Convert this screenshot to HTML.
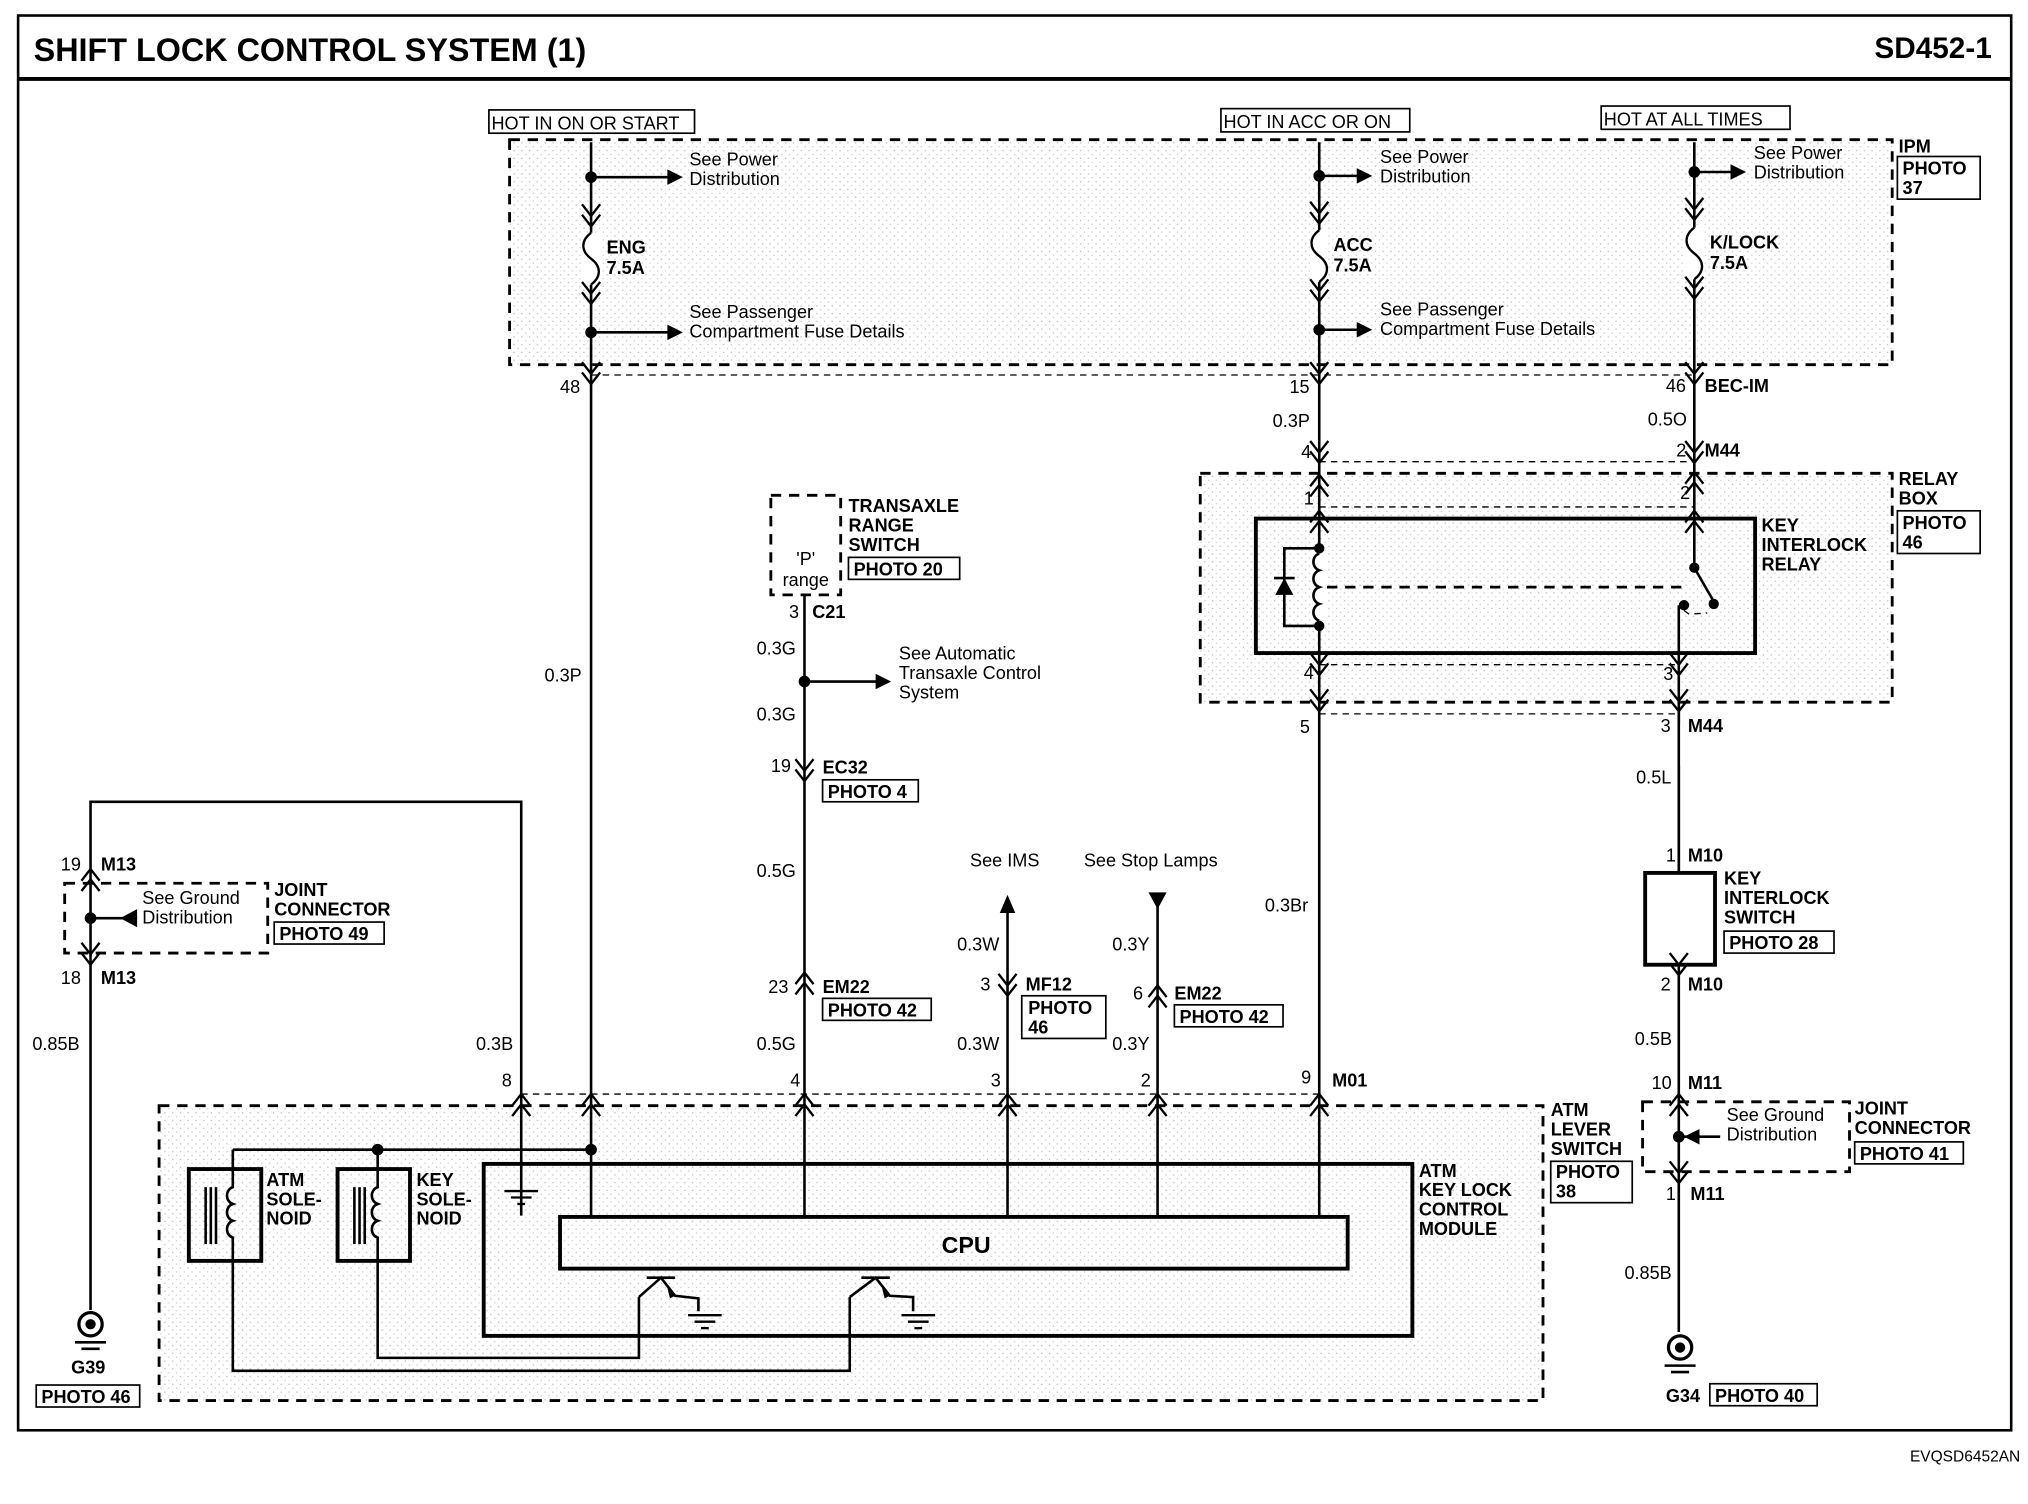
<!DOCTYPE html>
<html><head><meta charset="utf-8"><style>
html,body{margin:0;padding:0;background:#fff;}
svg{display:block;}
text{font-family:"Liberation Sans",Arial,sans-serif;font-size:14px;fill:#000;}
.b{font-weight:bold;}
.w{stroke:#000;stroke-width:2;fill:none;}
.t{stroke:#000;stroke-width:3;fill:none;}
.d{stroke:#000;stroke-width:2.2;fill:none;stroke-dasharray:8 6;}
.dt{stroke:#000;stroke-width:1;fill:none;stroke-dasharray:5 4;}
.bx{stroke:#000;stroke-width:1.3;fill:none;}
</style></head><body>
<svg width="2028" height="1504" viewBox="0 0 1568 1163" preserveAspectRatio="none" xmlns="http://www.w3.org/2000/svg">
<defs>
<path id="cu" d="M-7,9 L0,0 L7,9 M-7,17 L0,8 L7,17" stroke="#000" stroke-width="1.8" fill="none"/>
<path id="cd" d="M-7,-9 L0,0 L7,-9 M-7,-17 L0,-8 L7,-17" stroke="#000" stroke-width="1.8" fill="none"/>
<g id="fuse"><path d="M0,-20 C-8,-14 -8,-6 0,0 C8,6 8,14 0,20" stroke="#000" stroke-width="1.8" fill="none"/></g>
<g id="gnd"><circle cx="0" cy="0" r="9" fill="none" stroke="#000" stroke-width="2.5"/><circle cx="0" cy="0" r="4"/><line x1="-12" y1="14" x2="12" y2="14" stroke="#000" stroke-width="2"/><line x1="-7" y1="19" x2="7" y2="19" stroke="#000" stroke-width="2"/></g>
<g id="sg"><line x1="-13" y1="0" x2="13" y2="0" stroke="#000" stroke-width="1.8"/><line x1="-8" y1="5" x2="8" y2="5" stroke="#000" stroke-width="1.8"/><line x1="-3" y1="10" x2="3" y2="10" stroke="#000" stroke-width="1.8"/></g>
<pattern id="st" width="6" height="6" patternUnits="userSpaceOnUse"><rect width="6" height="6" fill="#fff"/><rect x="1" y="2" width="1" height="1" fill="#bbb"/><rect x="4" y="5" width="1" height="1" fill="#ccc"/></pattern>
</defs>

<!-- frame -->
<rect x="14" y="12" width="1541" height="1094" class="w" stroke-width="1.5"/>
<line x1="14" y1="61" x2="1555" y2="61" stroke="#000" stroke-width="3"/>
<text x="26" y="47" class="b" style="font-size:25px">SHIFT LOCK CONTROL SYSTEM (1)</text>
<text x="1540" y="45" class="b" style="font-size:23px" text-anchor="end">SD452-1</text>
<text x="1562" y="1130" style="font-size:12px" text-anchor="end">EVQSD6452AN</text>

<!-- shaded areas -->
<rect x="394" y="108" width="1069" height="174" fill="url(#st)"/>
<rect x="928" y="366" width="535" height="177" fill="url(#st)"/>
<rect x="123" y="855" width="1070" height="228" fill="url(#st)"/>

<!-- IPM box -->
<rect x="394" y="108" width="1069" height="174" class="d"/>
<text x="1468" y="118" class="b">IPM</text>
<rect x="1467" y="121" width="64" height="33" class="bx"/>
<text x="1471" y="135" class="b">PHOTO</text><text x="1471" y="150" class="b">37</text>
<line x1="457" y1="290" x2="1310" y2="290" class="dt"/>

<!-- column A x=457 -->
<rect x="378" y="85" width="159" height="18" class="bx"/><text x="380" y="100">HOT IN ON OR START</text>
<line x1="457" y1="110" x2="457" y2="940" class="w"/>
<circle cx="457" cy="137" r="4.5"/><line x1="457" y1="137" x2="520" y2="137" class="w"/><path d="M516,131 L528,137 L516,143Z"/>
<text x="533" y="128">See Power</text><text x="533" y="143">Distribution</text>
<use href="#cd" x="457" y="175"/>
<rect x="450" y="180" width="14" height="40" fill="#fff"/>
<use href="#fuse" x="457" y="200"/>
<use href="#cd" x="457" y="235"/>
<text x="469" y="196" class="b">ENG</text><text x="469" y="212" class="b">7.5A</text>
<circle cx="457" cy="257" r="4.5"/><line x1="457" y1="257" x2="520" y2="257" class="w"/><path d="M516,251 L528,257 L516,263Z"/>
<text x="533" y="246">See Passenger</text><text x="533" y="261">Compartment Fuse Details</text>
<use href="#cd" x="457" y="297"/>
<text x="433" y="304">48</text>
<text x="421" y="527">0.3P</text>

<!-- column B x=1020 -->
<rect x="944" y="84" width="146" height="18" class="bx"/><text x="946" y="99">HOT IN ACC OR ON</text>
<line x1="1020" y1="110" x2="1020" y2="940" class="w"/>
<circle cx="1020" cy="136" r="4.5"/><line x1="1020" y1="136" x2="1053" y2="136" class="w"/><path d="M1049,130 L1061,136 L1049,142Z"/>
<text x="1067" y="126">See Power</text><text x="1067" y="141">Distribution</text>
<use href="#cd" x="1020" y="173"/>
<rect x="1013" y="178" width="14" height="40" fill="#fff"/>
<use href="#fuse" x="1020" y="198"/>
<use href="#cd" x="1020" y="233"/>
<text x="1031" y="194" class="b">ACC</text><text x="1031" y="210" class="b">7.5A</text>
<circle cx="1020" cy="255" r="4.5"/><line x1="1020" y1="255" x2="1053" y2="255" class="w"/><path d="M1049,249 L1061,255 L1049,261Z"/>
<text x="1067" y="244">See Passenger</text><text x="1067" y="259">Compartment Fuse Details</text>
<use href="#cd" x="1020" y="297"/>
<text x="997" y="304">15</text>
<text x="984" y="330">0.3P</text>
<use href="#cd" x="1020" y="358"/><text x="1006" y="354">4</text>
<use href="#cu" x="1020" y="367"/>
<text x="1008" y="390">1</text>
<use href="#cu" x="1020" y="395"/>
<use href="#cd" x="1020" y="522"/><text x="1008" y="525">4</text>
<use href="#cd" x="1020" y="550"/>
<text x="1005" y="567">5</text>
<text x="978" y="705">0.3Br</text>
<text x="1006" y="838">9</text><text x="1030" y="840" class="b">M01</text>

<!-- column C x=1310 -->
<rect x="1238" y="82" width="146" height="18" class="bx"/><text x="1240" y="97">HOT AT ALL TIMES</text>
<line x1="1310" y1="110" x2="1310" y2="440" class="w"/>
<circle cx="1310" cy="133" r="4.5"/><line x1="1310" y1="133" x2="1342" y2="133" class="w"/><path d="M1338,127 L1350,133 L1338,139Z"/>
<text x="1356" y="123">See Power</text><text x="1356" y="138">Distribution</text>
<use href="#cd" x="1310" y="170"/>
<rect x="1303" y="176" width="14" height="40" fill="#fff"/>
<use href="#fuse" x="1310" y="196"/>
<use href="#cd" x="1310" y="231"/>
<text x="1322" y="192" class="b">K/LOCK</text><text x="1322" y="208" class="b">7.5A</text>
<use href="#cd" x="1310" y="297"/>
<text x="1288" y="303">46</text><text x="1318" y="303" class="b">BEC-IM</text>
<text x="1274" y="329">0.5O</text>
<use href="#cd" x="1310" y="358"/><text x="1296" y="353">2</text><text x="1318" y="353" class="b">M44</text>
<use href="#cu" x="1310" y="365"/><text x="1299" y="386">2</text>
<use href="#cu" x="1310" y="395"/>
<line x1="1020" y1="357" x2="1310" y2="357" class="dt"/>
<line x1="1020" y1="392" x2="1310" y2="392" class="dt"/>
<line x1="1020" y1="514" x2="1298" y2="514" class="dt"/>
<line x1="1020" y1="552" x2="1298" y2="552" class="dt"/>

<!-- relay box -->
<rect x="928" y="366" width="535" height="177" class="d"/>
<text x="1468" y="375" class="b">RELAY</text><text x="1468" y="390" class="b">BOX</text>
<rect x="1467" y="395" width="64" height="33" class="bx"/>
<text x="1471" y="409" class="b">PHOTO</text><text x="1471" y="424" class="b">46</text>
<rect x="971" y="401" width="386" height="104" class="t" fill="url(#st)"/>
<text x="1362" y="411" class="b">KEY</text><text x="1362" y="426" class="b">INTERLOCK</text><text x="1362" y="441" class="b">RELAY</text>
<!-- coil -->
<circle cx="1020" cy="424" r="4"/><circle cx="1020" cy="484" r="4"/>
<rect x="1014" y="428" width="12" height="52" fill="#fff"/>
<path d="M1020,428 c-6,2 -6,11 0,13 c-6,2 -6,11 0,13 c-6,2 -6,11 0,13 c-6,2 -6,11 0,13" class="w" stroke-width="1.5"/>
<path d="M1020,424 L993,424 L993,484 L1020,484" class="w"/>
<path d="M986,460 L1000,460 L993,447Z"/><line x1="985" y1="447" x2="1001" y2="447" class="w"/>
<line x1="1026" y1="454" x2="1300" y2="454" class="d" stroke-width="1.6"/>
<!-- switch -->
<circle cx="1310" cy="439" r="4"/>
<line x1="1310" y1="439" x2="1325" y2="465" class="w"/>
<circle cx="1325" cy="467" r="4"/>
<circle cx="1302" cy="468" r="4"/>
<path d="M1302,472 L1306,475 L1320,474" class="dt"/>
<line x1="1298" y1="468" x2="1298" y2="560" class="w"/>
<line x1="1298" y1="592" x2="1298" y2="673" class="w"/>
<use href="#cd" x="1298" y="522"/><text x="1286" y="526">3</text>
<use href="#cd" x="1298" y="550"/>
<text x="1284" y="566">3</text><text x="1305" y="566" class="b">M44</text>
<line x1="1298" y1="550" x2="1298" y2="675" class="w"/>
<text x="1265" y="606">0.5L</text>
<text x="1288" y="666">1</text><text x="1305" y="666" class="b">M10</text>
<rect x="1272" y="675" width="54" height="71" class="t" fill="url(#st)"/>
<text x="1333" y="684" class="b">KEY</text><text x="1333" y="699" class="b">INTERLOCK</text><text x="1333" y="714" class="b">SWITCH</text>
<rect x="1333" y="720" width="85" height="17" class="bx"/><text x="1337" y="734" class="b">PHOTO 28</text>
<use href="#cd" x="1298" y="754"/>
<line x1="1298" y1="746" x2="1298" y2="1030" class="w"/>
<text x="1284" y="766">2</text><text x="1305" y="766" class="b">M10</text>
<text x="1264" y="808">0.5B</text>
<text x="1277" y="842">10</text><text x="1305" y="842" class="b">M11</text>
<use href="#cu" x="1298" y="846"/>
<rect x="1270" y="852" width="160" height="54" class="d"/>
<circle cx="1298" cy="879" r="4.5"/><line x1="1302" y1="879" x2="1330" y2="879" class="w"/><path d="M1314,873 L1302,879 L1314,885Z"/>
<text x="1335" y="867">See Ground</text><text x="1335" y="882">Distribution</text>
<text x="1434" y="862" class="b">JOINT</text><text x="1434" y="877" class="b">CONNECTOR</text>
<rect x="1434" y="883" width="84" height="17" class="bx"/><text x="1438" y="897" class="b">PHOTO 41</text>
<use href="#cd" x="1298" y="915"/>
<text x="1288" y="928">1</text><text x="1307" y="928" class="b">M11</text>
<text x="1256" y="989">0.85B</text>
<use href="#gnd" x="1299" y="1042"/>
<text x="1288" y="1084" class="b">G34</text>
<rect x="1322" y="1070" width="83" height="17" class="bx"/><text x="1326" y="1084" class="b">PHOTO 40</text>

<!-- left joint connector -->
<path d="M70,1013 L70,620 L403,620 L403,940" class="w"/>
<text x="47" y="673">19</text><text x="78" y="673" class="b">M13</text>
<use href="#cu" x="70" y="672"/>
<rect x="50" y="683" width="157" height="54" class="d"/>
<circle cx="70" cy="710" r="4.5"/><line x1="74" y1="710" x2="106" y2="710" class="w"/><path d="M106,703 L93,710 L106,717Z"/>
<text x="110" y="699">See Ground</text><text x="110" y="714">Distribution</text>
<text x="212" y="693" class="b">JOINT</text><text x="212" y="708" class="b">CONNECTOR</text>
<rect x="212" y="713" width="85" height="17" class="bx"/><text x="216" y="727" class="b">PHOTO 49</text>
<use href="#cd" x="70" y="746"/>
<text x="47" y="761">18</text><text x="78" y="761" class="b">M13</text>
<text x="25" y="812">0.85B</text>
<use href="#gnd" x="70" y="1024"/>
<text x="55" y="1062" class="b">G39</text>
<rect x="28" y="1071" width="80" height="17" class="bx"/><text x="32" y="1085" class="b">PHOTO 46</text>
<text x="368" y="812">0.3B</text>
<text x="388" y="840">8</text>

<!-- transaxle -->
<rect x="596" y="383" width="54" height="77" class="d" stroke-width="1.6"/>
<text x="623" y="437" text-anchor="middle">'P'</text><text x="623" y="453" text-anchor="middle">range</text>
<text x="656" y="396" class="b">TRANSAXLE</text><text x="656" y="411" class="b">RANGE</text><text x="656" y="426" class="b">SWITCH</text>
<rect x="656" y="431" width="86" height="17" class="bx"/><text x="660" y="445" class="b">PHOTO 20</text>
<line x1="622" y1="460" x2="622" y2="940" class="w"/>
<text x="610" y="478">3</text><text x="628" y="478" class="b">C21</text>
<text x="585" y="506">0.3G</text>
<circle cx="622" cy="527" r="4.5"/><line x1="622" y1="527" x2="680" y2="527" class="w"/><path d="M677,521 L689,527 L677,533Z"/>
<text x="695" y="510">See Automatic</text><text x="695" y="525">Transaxle Control</text><text x="695" y="540">System</text>
<text x="585" y="557">0.3G</text>
<use href="#cd" x="622" y="604"/>
<text x="596" y="597">19</text><text x="636" y="598" class="b">EC32</text>
<rect x="636" y="603" width="74" height="17" class="bx"/><text x="640" y="617" class="b">PHOTO 4</text>
<text x="585" y="678">0.5G</text>
<use href="#cu" x="622" y="752"/>
<text x="594" y="768">23</text><text x="636" y="768" class="b">EM22</text>
<rect x="636" y="772" width="84" height="17" class="bx"/><text x="640" y="786" class="b">PHOTO 42</text>
<text x="585" y="812">0.5G</text>
<text x="611" y="840">4</text>

<!-- IMS -->
<text x="750" y="670">See IMS</text>
<path d="M779,940 L779,700" class="w"/><path d="M773,706 L779,692 L785,706Z"/>
<text x="740" y="735">0.3W</text>
<use href="#cd" x="779" y="770"/>
<text x="758" y="766">3</text><text x="793" y="766" class="b">MF12</text>
<rect x="790" y="770" width="65" height="33" class="bx"/><text x="795" y="784" class="b">PHOTO</text><text x="795" y="799" class="b">46</text>
<text x="740" y="812">0.3W</text><text x="766" y="840">3</text>
<!-- stop lamps -->
<text x="838" y="670">See Stop Lamps</text>
<path d="M895,940 L895,694" class="w"/><path d="M888,690 L902,690 L895,703Z"/>
<text x="860" y="735">0.3Y</text>
<use href="#cu" x="895" y="762"/>
<text x="876" y="773">6</text><text x="908" y="773" class="b">EM22</text>
<rect x="908" y="777" width="84" height="17" class="bx"/><text x="912" y="791" class="b">PHOTO 42</text>
<text x="860" y="812">0.3Y</text><text x="882" y="840">2</text>

<!-- module connectors -->
<line x1="403" y1="846" x2="1020" y2="846" class="dt"/>
<use href="#cu" x="403" y="846"/><use href="#cu" x="457" y="846"/><use href="#cu" x="622" y="846"/>
<use href="#cu" x="779" y="846"/><use href="#cu" x="895" y="846"/><use href="#cu" x="1020" y="846"/>

<!-- ATM module -->
<rect x="123" y="855" width="1070" height="228" class="d"/>
<text x="1199" y="863" class="b">ATM</text><text x="1199" y="878" class="b">LEVER</text><text x="1199" y="893" class="b">SWITCH</text>
<rect x="1199" y="898" width="63" height="32" class="bx"/><text x="1203" y="911" class="b">PHOTO</text><text x="1203" y="926" class="b">38</text>
<rect x="374" y="900" width="718" height="133" class="t" fill="none"/>
<text x="1097" y="910" class="b">ATM</text><text x="1097" y="925" class="b">KEY LOCK</text><text x="1097" y="940" class="b">CONTROL</text><text x="1097" y="955" class="b">MODULE</text>
<rect x="433" y="941" width="609" height="40" class="t" fill="#fff"/>
<text x="747" y="969" class="b" style="font-size:18px" text-anchor="middle">CPU</text>
<use href="#sg" x="403" y="921"/>
<line x1="180" y1="889" x2="457" y2="889" class="w"/>
<circle cx="292" cy="889" r="4.5"/><circle cx="457" cy="889" r="4.5"/>
<!-- solenoids -->
<rect x="146" y="904" width="56" height="71" class="t"/>
<rect x="261" y="904" width="56" height="71" class="t"/>
<text x="206" y="917" class="b">ATM</text><text x="206" y="932" class="b">SOLE-</text><text x="206" y="947" class="b">NOID</text>
<text x="322" y="917" class="b">KEY</text><text x="322" y="932" class="b">SOLE-</text><text x="322" y="947" class="b">NOID</text>
<line x1="159" y1="918" x2="159" y2="962" class="w" stroke-width="1.2"/><line x1="163" y1="918" x2="163" y2="962" class="w" stroke-width="1.2"/><line x1="167" y1="918" x2="167" y2="962" class="w" stroke-width="1.2"/>
<line x1="274" y1="918" x2="274" y2="962" class="w" stroke-width="1.2"/><line x1="278" y1="918" x2="278" y2="962" class="w" stroke-width="1.2"/><line x1="282" y1="918" x2="282" y2="962" class="w" stroke-width="1.2"/>
<path d="M180,889 L180,918 c-6,2 -6,11 0,13 c-6,2 -6,11 0,13 c-6,2 -6,11 0,13 L180,1060 L657,1060 L657,1003" class="w"/>
<path d="M292,889 L292,918 c-6,2 -6,11 0,13 c-6,2 -6,11 0,13 c-6,2 -6,11 0,13 L292,1050 L494,1050 L494,1003" class="w"/>
<!-- transistors -->
<line x1="500" y1="988" x2="522" y2="988" class="w"/>
<path d="M494,1003 L511,988 L522,1002 L540,1004 L540,1014" class="w"/><path d="M516,996 L522,1002 L518,1004Z"/>
<use href="#sg" x="545" y="1017"/>
<line x1="666" y1="988" x2="688" y2="988" class="w"/>
<path d="M657,1003 L677,988 L688,1002 L706,1003 L706,1014" class="w"/><path d="M682,996 L688,1002 L684,1004Z"/>
<use href="#sg" x="710" y="1017"/>
</svg>
</body></html>
